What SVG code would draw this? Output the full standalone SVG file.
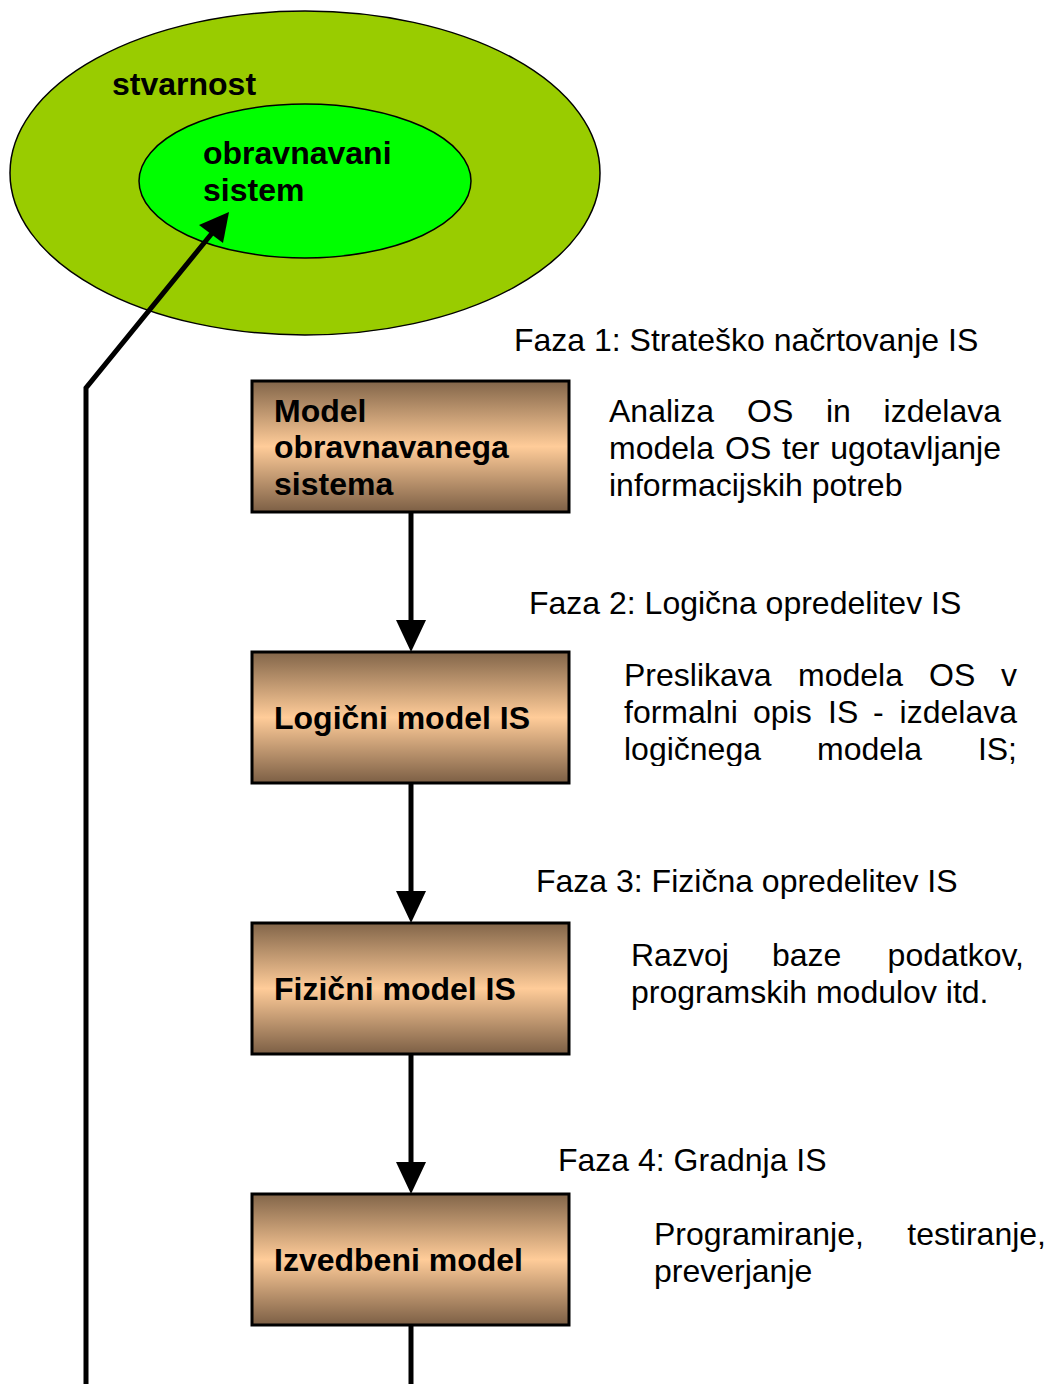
<svg xmlns="http://www.w3.org/2000/svg" width="1051" height="1384" viewBox="0 0 1051 1384">
  <style>
    .lbl { font-family: "Liberation Sans", Arial, sans-serif; font-size: 32px; fill: #000; }
    .b { font-weight: bold; }
    .box { fill: url(#boxFill); stroke: #000; stroke-width: 3; }
    .line { stroke: #000; stroke-width: 5; fill: none; }
    .end { text-anchor: end; }
  </style>
  <defs>
    <linearGradient id="boxFill" x1="0" y1="0" x2="0" y2="1">
      <stop offset="0" stop-color="#826549"/>
      <stop offset="0.5" stop-color="#FFCC99"/>
      <stop offset="1" stop-color="#7C5F45"/>
    </linearGradient>
    <clipPath id="clipP2">
      <rect x="600" y="640" width="451" height="126"/>
    </clipPath>
  </defs>

  <!-- reality / system under consideration -->
  <g id="stvarnost">
    <ellipse cx="305" cy="173" rx="295" ry="162" fill="#99CC00" stroke="#000" stroke-width="1.5"/>
    <text class="lbl b" x="112" y="95">stvarnost</text>
  </g>
  <g id="obravnavani-sistem">
    <ellipse cx="305" cy="181" rx="166" ry="77" fill="#00FF00" stroke="#000" stroke-width="1.5"/>
    <text class="lbl b" x="203" y="164">obravnavani</text>
    <text class="lbl b" x="203" y="201">sistem</text>
  </g>

  <!-- connectors -->
  <g id="connectors">
    <line class="line" x1="411" y1="513" x2="411" y2="622"/>
    <polygon points="396,620 426,620 411,652"/>
    <line class="line" x1="411" y1="784" x2="411" y2="893"/>
    <polygon points="396,891 426,891 411,923"/>
    <line class="line" x1="411" y1="1055" x2="411" y2="1164"/>
    <polygon points="396,1162 426,1162 411,1194"/>
    <line class="line" x1="411" y1="1326" x2="411" y2="1384"/>
    <polyline class="line" points="86,1384 86,388 213,232"/>
    <polygon points="229,212 199,225 223,243"/>
  </g>

  <!-- phase nodes -->
  <g id="model-os">
    <rect class="box" x="252" y="381" width="317" height="131"/>
    <text class="lbl b" x="274" y="422">Model</text>
    <text class="lbl b" x="274" y="458">obravnavanega</text>
    <text class="lbl b" x="274" y="495">sistema</text>
  </g>
  <g id="logicni-model">
    <rect class="box" x="252" y="652" width="317" height="131"/>
    <text class="lbl b" x="274" y="729">Logični model IS</text>
  </g>
  <g id="fizicni-model">
    <rect class="box" x="252" y="923" width="317" height="131"/>
    <text class="lbl b" x="274" y="1000">Fizični model IS</text>
  </g>
  <g id="izvedbeni-model">
    <rect class="box" x="252" y="1194" width="317" height="131"/>
    <text class="lbl b" x="274" y="1271">Izvedbeni model</text>
  </g>

  <!-- phase titles -->
  <g id="faze">
    <text class="lbl" x="514" y="351">Faza 1: Strateško načrtovanje IS</text>
    <text class="lbl" x="529" y="614">Faza 2: Logična opredelitev IS</text>
    <text class="lbl" x="536" y="892">Faza 3: Fizična opredelitev IS</text>
    <text class="lbl" x="558" y="1171">Faza 4: Gradnja IS</text>
  </g>

  <!-- justified descriptions -->
  <g id="opis-1">
    <text class="lbl" x="609" y="422">Analiza</text>
    <text class="lbl" x="747" y="422">OS</text>
    <text class="lbl" x="826" y="422">in</text>
    <text class="lbl end" x="1001" y="422">izdelava</text>
    <text class="lbl" x="609" y="459">modela</text>
    <text class="lbl" x="725" y="459">OS</text>
    <text class="lbl" x="782" y="459">ter</text>
    <text class="lbl end" x="1001" y="459">ugotavljanje</text>
    <text class="lbl" x="609" y="496">informacijskih potreb</text>
  </g>
  <g id="opis-2" clip-path="url(#clipP2)">
    <text class="lbl" x="624" y="686">Preslikava</text>
    <text class="lbl" x="798" y="686">modela</text>
    <text class="lbl" x="929" y="686">OS</text>
    <text class="lbl end" x="1017" y="686">v</text>
    <text class="lbl" x="624" y="723">formalni</text>
    <text class="lbl" x="753" y="723">opis</text>
    <text class="lbl" x="828" y="723">IS</text>
    <text class="lbl" x="873" y="723">-</text>
    <text class="lbl end" x="1017" y="723">izdelava</text>
    <text class="lbl" x="624" y="760">logičnega</text>
    <text class="lbl" x="817" y="760">modela</text>
    <text class="lbl end" x="1017" y="760">IS;</text>
  </g>
  <g id="opis-3">
    <text class="lbl" x="631" y="966">Razvoj</text>
    <text class="lbl" x="772" y="966">baze</text>
    <text class="lbl end" x="1024" y="966">podatkov,</text>
    <text class="lbl" x="631" y="1003">programskih modulov itd.</text>
  </g>
  <g id="opis-4">
    <text class="lbl" x="654" y="1245">Programiranje,</text>
    <text class="lbl end" x="1046" y="1245">testiranje,</text>
    <text class="lbl" x="654" y="1282">preverjanje</text>
  </g>
</svg>
